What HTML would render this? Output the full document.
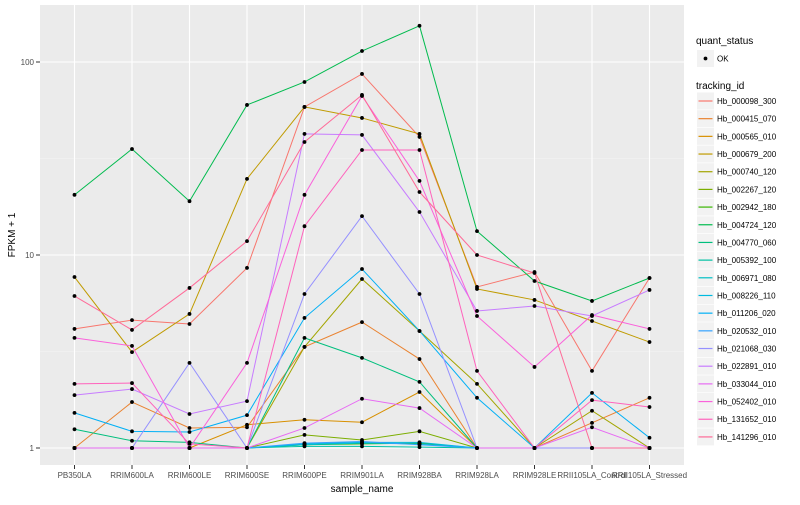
<!DOCTYPE html>
<html><head><meta charset="utf-8"><style>
body{margin:0;background:#fff;font-family:"Liberation Sans",sans-serif}
svg text{font-family:"Liberation Sans",sans-serif}
</style></head><body>
<svg id="chart" width="800" height="500" xmlns="http://www.w3.org/2000/svg">
<rect x="0" y="0" width="800" height="500" fill="#fff"/>
<rect x="40" y="5" width="644" height="460" fill="#EBEBEB"/>
<g id="grid"></g><g id="series"></g><g id="axes"></g><g id="legend"></g>
</svg>
<script>
const categories=["PB350LA","RRIM600LA","RRIM600LE","RRIM600SE","RRIM600PE","RRIM901LA","RRIM928BA","RRIM928LA","RRIM928LE","RRII105LA_Control","RRII105LA_Stressed"];
const seriesNames=["Hb_000098_300","Hb_000415_070","Hb_000565_010","Hb_000679_200","Hb_000740_120","Hb_002267_120","Hb_002942_180","Hb_004724_120","Hb_004770_060","Hb_005392_100","Hb_006971_080","Hb_008226_110","Hb_011206_020","Hb_020532_010","Hb_021068_030","Hb_022891_010","Hb_033044_010","Hb_052402_010","Hb_131652_010","Hb_141296_010"];
const colors=["#F8766D","#EA8331","#D89000","#C09B00","#A3A500","#7CAE00","#39B600","#00BB4E","#00BF7D","#00C1A3","#00BFC4","#00BAE0","#00B0F6","#35A2FF","#9590FF","#C77CFF","#E76BF3","#FA62DB","#FF62BC","#FF6A98"];
const s0=[4.14,4.60,4.39,8.57,58.5,86.7,40.9,6.83,8.16,2.51,7.60];
const s1=[1,1.73,1.27,1.28,3.34,4.49,2.89,1,1,1.35,1.82];
const s2=[1,1,1,1.32,1.40,1.36,1.95,1,1,1,1];
const s3=[7.69,3.14,4.95,24.8,58.5,51.3,42.4,6.67,5.85,4.55,3.54];
const s4=[1,1,1,1,3.34,7.51,4.04,2.15,1,1.56,1];
const s5=[1,1,1,1,1.17,1.10,1.22,1,1,1,1];
const s6=[1,1,1,1,1.04,1.05,1.06,1,1,1,1];
const s7=[20.5,35.4,19.0,59.9,78.8,114,154,13.3,7.33,5.78,7.60];
const s8=[1.25,1.09,1.07,1,3.72,2.93,2.20,1,1,1,1];
const s9=[1,1,1,1,1.02,1.02,1.01,1,1,1,1];
const s10=[1,1,1,1,1.04,1.06,1.05,1,1,1,1];
const s11=[1,1,1,1,1.05,1.07,1.07,1,1,1,1];
const s12=[1.52,1.22,1.21,1.48,4.72,8.46,4.04,1.82,1,1.93,1.13];
const s13=[1,1,1,1,1.06,1.08,1.04,1,1,1,1];
const s14=[1,1,2.76,1,6.28,15.9,6.28,1,1,1,1];
const s15=[1.88,2.02,1.50,1.75,42.4,41.9,16.7,5.13,5.44,4.83,6.59];
const s16=[1,1,1,1,1.27,1.80,1.61,1,1,1.28,1];
const s17=[3.72,3.38,1,2.76,20.5,66.7,24.2,4.83,2.63,4.89,4.14];
const s18=[2.15,2.17,1.05,1,14.1,35.0,35.0,2.51,1,1.77,1.63];
const s19=[6.13,4.09,6.75,11.8,38.5,67.5,21.2,10,8.07,1,1];
const seriesValues=[s0,s1,s2,s3,s4,s5,s6,s7,s8,s9,s10,s11,s12,s13,s14,s15,s16,s17,s18,s19];
const yTicks=[1,10,100];
const yTickLabels=["1","10","100"];

const NS="http://www.w3.org/2000/svg";
function xPos(i){return 74.5+i*57.5;}
function yPos(v){return 448-193*Math.log10(v);}
function mk(tag,attrs,parent){const e=document.createElementNS(NS,tag);for(const k in attrs)e.setAttribute(k,attrs[k]);parent.appendChild(e);return e;}
const grid=document.getElementById('grid'),ser=document.getElementById('series'),ax=document.getElementById('axes'),leg=document.getElementById('legend');
// minor grid
yTicks.forEach((t,k)=>{if(k<yTicks.length-1){const m=mk('line',{x1:40,x2:684,y1:yPos(Math.sqrt(t*yTicks[k+1])),y2:yPos(Math.sqrt(t*yTicks[k+1])),stroke:'#F5F5F5','stroke-width':0.6},grid);

}});
yTicks.forEach((t,k)=>{const g=mk('line',{x1:40,x2:684,y1:yPos(t),y2:yPos(t),stroke:'#fff','stroke-width':1.1},grid);


const tk=mk('line',{x1:36,x2:40,y1:yPos(t),y2:yPos(t),stroke:'#333','stroke-width':1},ax);


const tl=mk('text',{x:34,y:yPos(t)+3,'text-anchor':'end','font-size':8,fill:'#4D4D4D'},ax);tl.textContent=yTickLabels[k];

});
categories.forEach((c,i)=>{const g=mk('line',{x1:xPos(i),x2:xPos(i),y1:5,y2:465,stroke:'#fff','stroke-width':1.1},grid);


const tk=mk('line',{x1:xPos(i),x2:xPos(i),y1:465,y2:469,stroke:'#333','stroke-width':1},ax);


const tl=mk('text',{x:xPos(i),y:478,'text-anchor':'middle','font-size':8,fill:'#4D4D4D'},ax);tl.textContent=c;

});
seriesValues.forEach((vals,si)=>{const pts=vals.map((v,i)=>xPos(i)+','+yPos(v)).join(' ');
const pl=mk('polyline',{points:pts,fill:'none',stroke:colors[si],'stroke-width':1},ser);

});
seriesValues.forEach((vals,si)=>{vals.forEach((v,i)=>{const p=mk('circle',{cx:xPos(i),cy:yPos(v),r:1.9,fill:'#000'},ser);

});});
// titles
let t=mk('text',{x:362,y:492,'text-anchor':'middle','font-size':10,fill:'#000'},ax);t.textContent='sample_name';


t=mk('text',{x:0,y:0,'text-anchor':'middle','font-size':10,fill:'#000',transform:'translate(15,235) rotate(-90)'},ax);t.textContent='FPKM + 1';


// legend
t=mk('text',{x:696,y:44,'font-size':10,fill:'#000'},leg);t.textContent='quant_status';


let b=mk('rect',{x:697,y:50,width:17,height:17,fill:'#F2F2F2'},leg);


let d=mk('circle',{cx:705.5,cy:58.5,r:1.9,fill:'#000'},leg);


t=mk('text',{x:717,y:61.5,'font-size':8,fill:'#000'},leg);t.textContent='OK';


t=mk('text',{x:696,y:89,'font-size':10,fill:'#000'},leg);t.textContent='tracking_id';


seriesNames.forEach((n,i)=>{const cy=101+i*17.68;
const r=mk('rect',{x:697,y:cy-8.5,width:17,height:17,fill:'#F2F2F2'},leg);


const l=mk('line',{x1:698.5,x2:712.5,y1:cy,y2:cy,stroke:colors[i],'stroke-width':1.2},leg);


const tx=mk('text',{x:717,y:cy+3,'font-size':8,fill:'#000'},leg);tx.textContent=n;

});
</script>
</body></html>
